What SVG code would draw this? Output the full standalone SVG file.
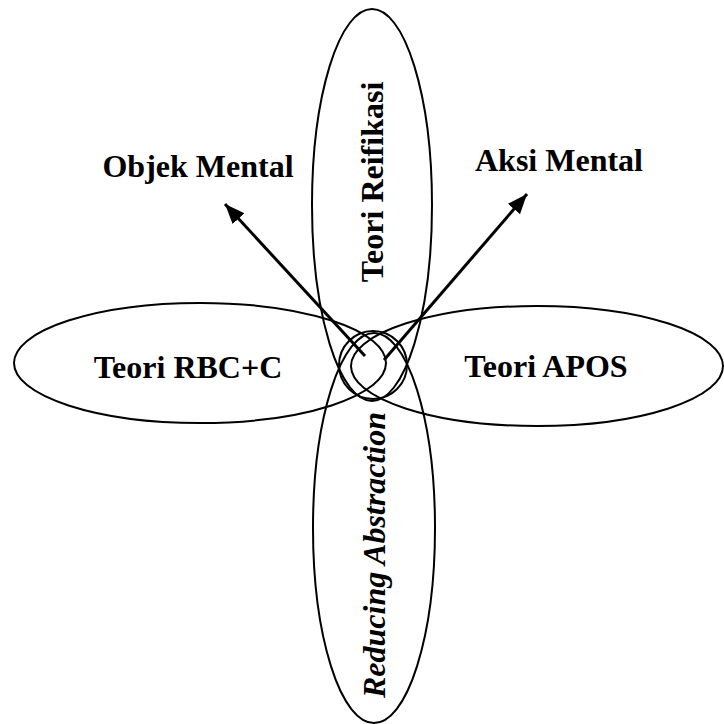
<svg xmlns="http://www.w3.org/2000/svg" width="724" height="724" viewBox="0 0 724 724">
<style>
.shape{fill:none;stroke:#000;stroke-width:2}
.lbl{font-family:"Liberation Serif","Times New Roman",serif;font-weight:bold;font-size:32px;fill:#000}
.it{font-style:italic}
.arrow{stroke:#000;stroke-width:3;fill:none}
</style>
<defs>
<marker id="ah" markerUnits="userSpaceOnUse" markerWidth="24" markerHeight="18" refX="20" refY="8" orient="auto">
<path d="M0,0 L20,8 L0,16 Z" fill="#000"/>
</marker>
</defs>
<rect width="724" height="724" fill="#fff"/>
<g id="reifikasi">
<ellipse class="shape" cx="372" cy="205" rx="60" ry="196"/>
<text class="lbl" text-anchor="middle" transform="translate(383,182) rotate(-90)">Teori Reifikasi</text>
</g>
<g id="reducing">
<ellipse class="shape" cx="374" cy="528" rx="61" ry="195"/>
<text class="lbl it" text-anchor="middle" transform="translate(385,555) rotate(-90)">Reducing Abstraction</text>
</g>
<g id="rbcc">
<ellipse class="shape" cx="200" cy="363" rx="186" ry="60"/>
<text class="lbl" x="188" y="378" text-anchor="middle">Teori RBC+C</text>
</g>
<g id="apos">
<ellipse class="shape" cx="537" cy="366" rx="186" ry="60"/>
<text class="lbl" x="546" y="377" text-anchor="middle">Teori APOS</text>
</g>
<g id="center">
<circle class="shape" cx="373" cy="365" r="34"/>
</g>
<g id="objek">
<text class="lbl" x="198" y="177" text-anchor="middle">Objek Mental</text>
</g>
<g id="aksi">
<text class="lbl" x="559" y="171" text-anchor="middle">Aksi Mental</text>
</g>
<g id="connectors">
<line class="arrow" x1="365" y1="356" x2="225" y2="204" marker-end="url(#ah)"/>
<line class="arrow" x1="384" y1="360" x2="527" y2="194" marker-end="url(#ah)"/>
</g>
</svg>
